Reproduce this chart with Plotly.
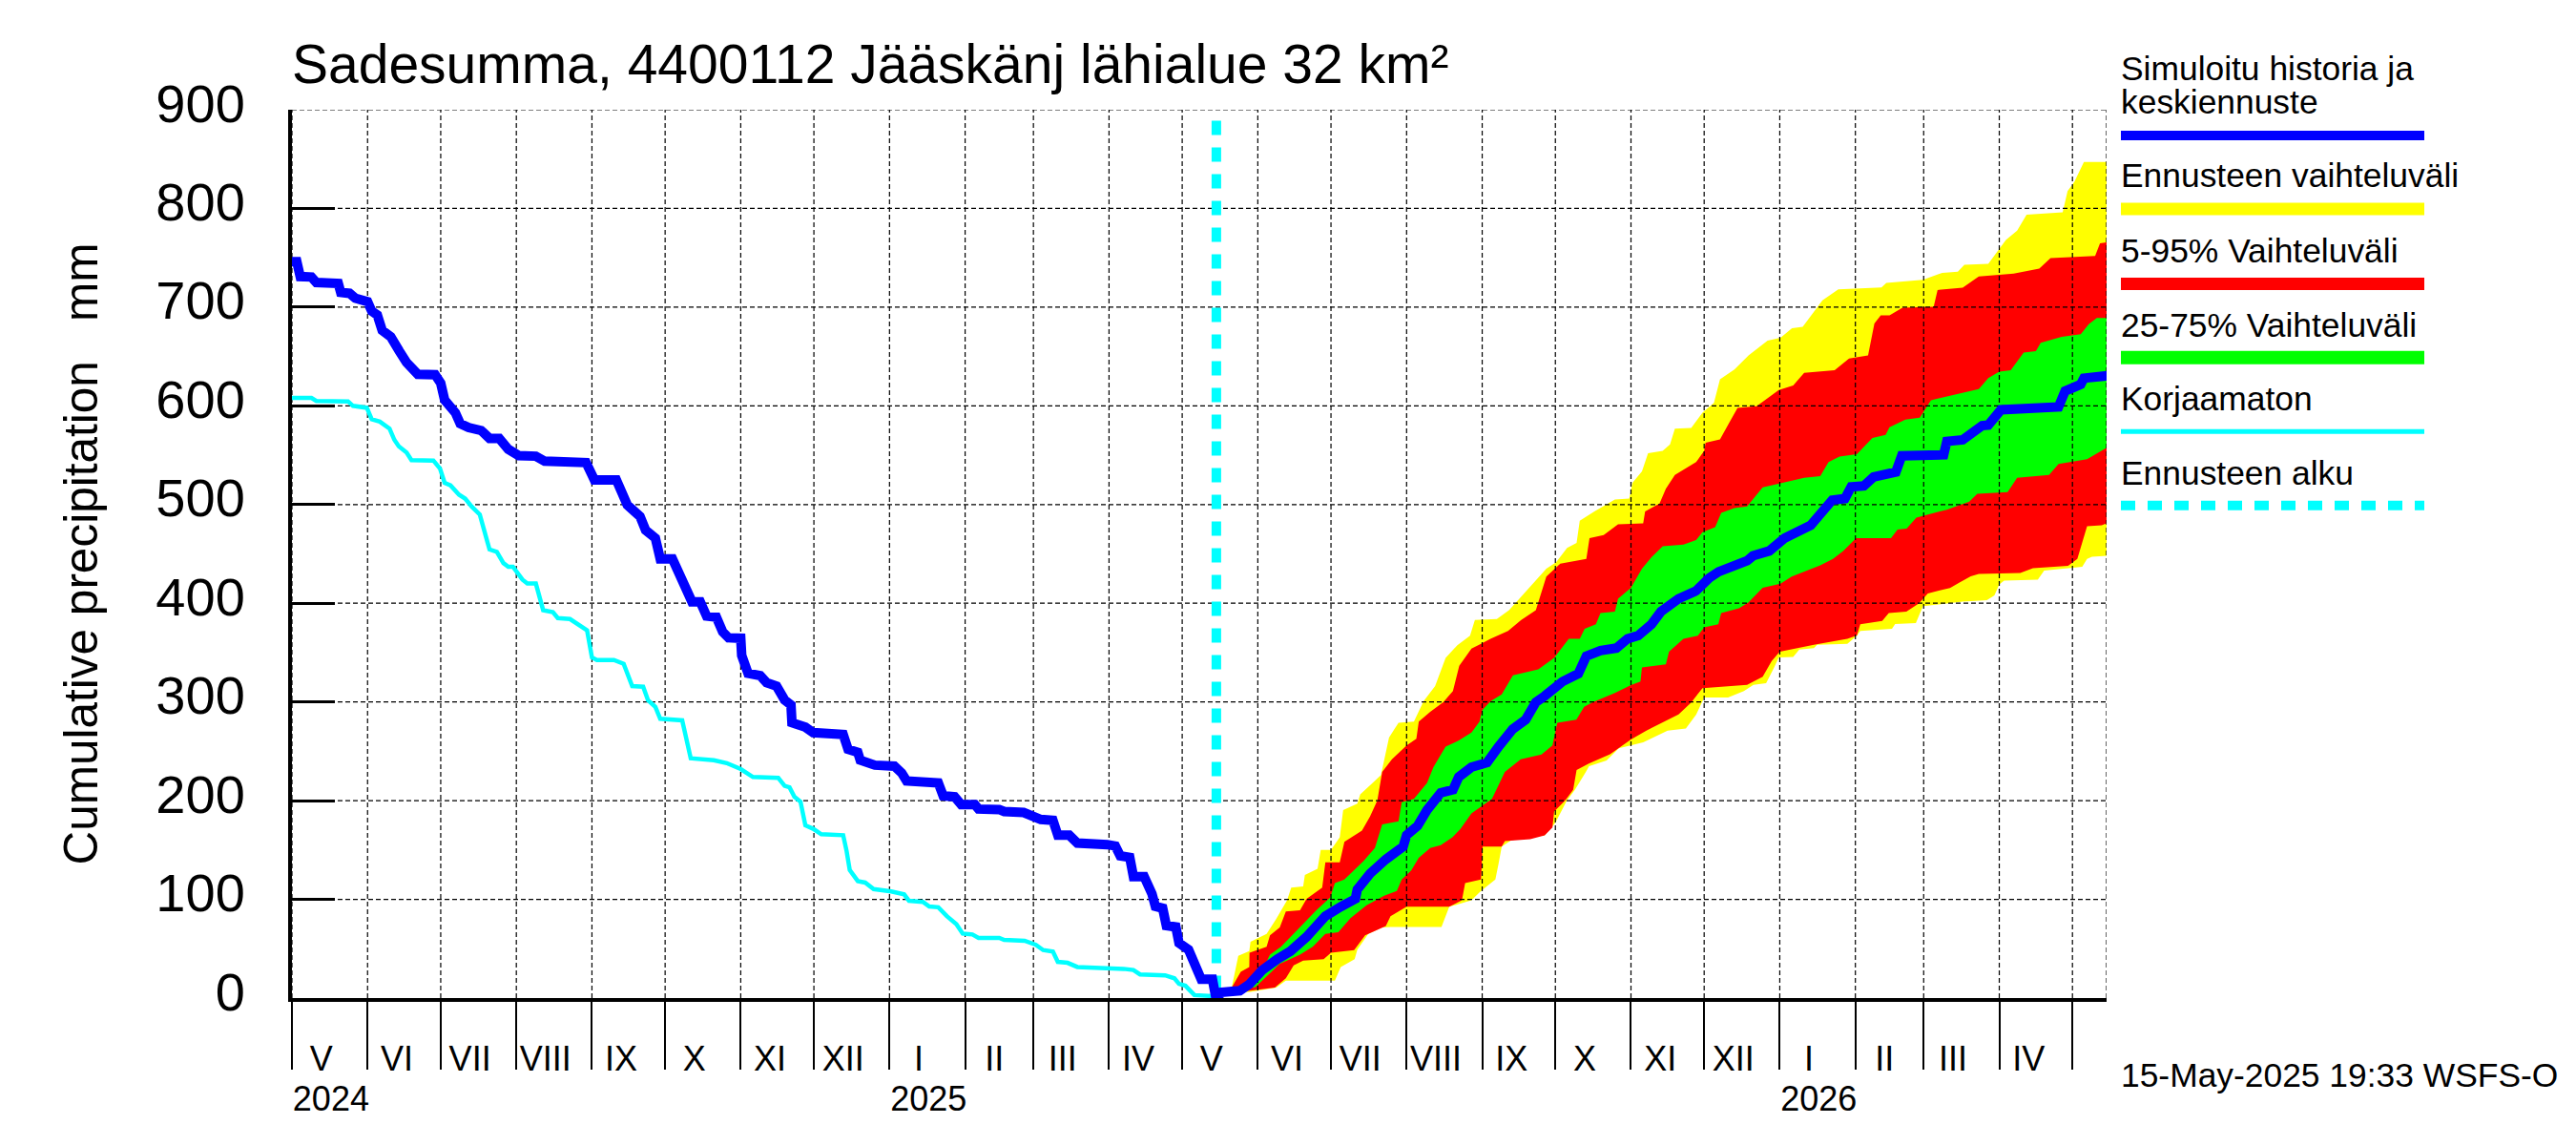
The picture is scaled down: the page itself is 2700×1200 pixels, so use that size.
import pandas as pd
import plotly.graph_objects as go

START = pd.Timestamp("2024-05-01")
END_DAY = 744
FORECAST_DAY = 379

# Simulated history and central forecast (days since 1 May 2024, mm)
blue_days = [0,2,3.4,8,10,19,20,23.6,26,31,32.7,35,37,40.5,44,47,51.6,58.7,61,62.6,67,69,72.4,77.6,81,85,88.7,93,100,103.6,120.6,122.5,124,133,135,137.5,142.7,145,149,151,156,160,162,164,167.4,170,174,176.6,179,184,184.4,187,192,194.6,198.7,202,204.6,205,210.5,213.7,226,228,232,233,239,247,250,252,265,267,271.7,274.4,280,281.5,290,292,300,307,312,314,318.7,322,334.3,337.6,339.6,343.5,345,349.4,352.6,354,357,358.5,362.4,363.7,367.6,369.5,372.8,377.4,379,
             381,388.6,392.5,397.7,404,409.4,416,423.7,430,436,436.8,442,448.5,455.6,457,461.5,465.4,471,476,478.4,483.6,490,494.7,500.5,505.8,510,513.6,520.9,527.4,530.7,536.5,543,547.6,552,557.4,561.3,568.5,575.7,581,585,596.6,599,605.7,612,622.7,627.5,631.5,636.7,639.3,644.5,648.5,657.6,660,677.2,678.5,685,693,695.5,700.7,724.3,727,733.4,734.7,745]
blue_vals = [746,746,731,730.5,725,724,715,714,709,705.5,696,692,676.5,670,655.6,644,632,631.5,623,606,593,582,578,575,567,567,556,549.5,549,544,542.5,535,525,525,512,499.5,488,474,466,445,445,424,417.5,401.5,401.5,387,386,371,365,364.5,347,329,326.6,319.6,316,302,297,279,274.5,269,267,252,249,241,236,235,228,220,218,205,204,196,196,191.5,191,189,188,181,180,165,165,157,155.5,154,144,142.5,123,123,105.6,93,91,73.4,72,55.7,49,36,19,19,-2,
             5.8,7.4,14,28,39.5,47.5,62,83,92.5,100.5,110,126,140.5,153.5,165,174.5,190.5,208,211,224,234,238.6,254.7,272.4,282,299.7,306,320.6,328.7,346.5,352,354.5,364,367.4,378.7,391.6,404.5,412.6,425.5,432,443,448,453,466,479,491.6,504.5,506,518,519,528,533,549.4,550.4,564,565.5,580,580.6,596,599,615,621.7,628,630.7]

# Uncorrected series
cyan_days = [0,8,10,23,25,30.7,32.7,36,40,42,43.8,47,49,58,60.7,62.6,65,68.5,71,73.7,77,78.9,81,84,86.7,88.7,90.6,94.5,96.5,100,103,107,109,114,118,121,123,125,132,136,139.5,144,146,149,151,160,163.5,173,178.3,184,189,199.4,202,204,206,208.5,210.5,213.7,217,226,227.4,228.7,232,235,238.5,245.7,251,253,258.7,261.3,265,268.5,272.4,275,279,281.5,290,292,300.4,305,308,312,314,318,322,328,341,345,347.7,358,361.8,363.7,366.3,370,377.4,379]
cyan_vals = [608,608,605,604.5,600,598,586.5,584,577,565.5,559,552.6,545,544.6,536.5,522,519.5,510,506,498,490,474,454.5,452,440.7,437,437,424,420,420,393,391,385,384,377.5,372.5,345,342.5,342.5,338.7,316,315.5,301.7,295,283,281.4,243,241,238,232,224,223,215,213.5,204,199,175,171.5,166,165,149,129.7,118.5,117,110.4,108,105,98.5,97.5,92.7,92,83,75,65.3,64.4,61,61,59,58,54,48.6,47,36.7,35.7,31.5,31,29.6,28.4,24,23,20,14.4,12.5,3,2,0]

# Forecast range (outer)
yellow_up_days = [379,385.3,388,392.5,393,399.6,403.5,408,409.7,414.6,415.3,420.5,421.8,426,429.6,431,436.8,438,443.3,446.5,449.8,453.7,460,464,468.7,473,477.8,483,485,494,499,514.3,518.3,522.8,526.7,528,534,542.4,548.3,549.6,553.5,556,562,565,567,573.7,578.3,583,585.5,591.4,597.2,605,610.3,615,619.4,623.6,627.5,634,651.7,653.7,668.7,676.6,683,685.7,695.5,698.8,702.7,707.3,711.2,726,728,730.8,734.7,744]
yellow_up_vals = [4,10.6,42.7,47.5,57,65,80,99,111.8,113,124.6,131,150,150,163,190.5,197,206.5,218.4,226,264,279,280,301,316,344.6,357.5,367,383,384,393,435,441.6,456,461,483.5,493,505,506,522,533.5,552,554.5,561,577,577.7,593,603,627,636.8,651,666,669,678.7,680,694,707,718,720,724.5,727.7,734.8,735.8,743,743.8,755,768,777.5,793.6,796,817.7,827,847,847]
yellow_lo_days = [379,393,403.5,407.5,427.6,430,435.7,436.8,441.3,447,450.4,471.3,474.5,483.6,487.5,493.4,494.7,496,500,513.6,518,522.7,526,530.5,531.8,539,544,554,564,571.5,575.7,579,588.8,595.3,599.2,604.4,607.7,609.6,615.5,618,624,625.3,637.7,641.6,643,656,657.3,665.8,668.7,685,694.9,698,700,702,715.8,718.4,734,736,738,744]
yellow_lo_vals = [4,6.4,10.6,17.6,17.6,31.5,39.5,49,65,71.6,72,72,92.5,99,108.5,120,136,153.5,160,164.8,177.6,200,211,229,235,240.6,253,259,271,273,287,304.5,304.5,311,317.4,319,335,345,345.5,353,354.5,358,359,367,372,374,379,380,397,401.7,403,408,419,423,424,433,437,445,447,448]

# 5-95 % range
red_up_days = [379,385.3,389,392.5,392.6,399.6,401,405,407.5,413.3,416,422.4,423.7,429.6,431.5,438.7,442,445,447,451,457,461,462,466.7,472,476,478.6,483.6,487.5,491.4,498.6,504,510,514.3,520,530.7,532,537.8,543.7,554,554.8,560.7,563.3,567,575.7,579,579.6,585.5,589.4,592.7,600.5,609.6,615.5,620,632.5,638.4,646.2,648.8,651.4,655,660.3,673.1,674.7,685,691.6,705.9,716.4,721,739.3,741.3,744]
red_up_vals = [4,10.6,26.6,31.5,46,52,63.6,71.6,87.7,89,100.5,111.8,137.5,137.5,158.3,169.6,184,200,229,242,256,262.7,280,290,299.7,311,336.6,354,359,364,372,383,393,427,440,445,466,469,480,481,493,501,516,530,543,554.5,562.6,566,583.5,598,599.7,616,620.6,633.5,636,648,651,683.5,691.6,691.7,699.5,700.4,717.4,719.7,731,734,739,749.6,751.8,764.7,765.6]
red_lo_days = [379,393,403,407.5,410.7,414.6,423,426,435.5,440,448.5,450.4,457,474.5,479.7,481,487.5,488.2,496,497.3,507.7,513.6,516.8,517.5,522,525.3,526.7,531.7,540.4,549,555.3,568.5,573.7,578.3,596.6,603,606.7,610,617.5,624,637.7,641.6,643,652,654.7,661.9,667,670.7,679.8,683.7,688.3,691.6,708.6,713.8,728.2,732,736,742,744]
red_lo_vals = [4,7.4,10.6,20,33,38,39.5,46,48.5,63.6,73,83,92.5,92.5,99,116.6,120,153.5,153.5,159,161,164.8,172.8,189,200,211,231,237.5,247,262,271,287.4,299.5,314,317.4,325.5,341.6,351,354.5,358,364,367.4,378.7,382,390,391.6,399.7,410,415.5,421,427.4,429.6,430.6,435.4,438,445,478,479,481]

# 25-75 % range
green_up_days = [379,393.8,397,401,405.5,410,414.6,420,425.7,427.6,431.5,439.4,444,447,453.7,455,460,465.4,468,473,478.4,483.6,486.9,488,491.5,496,500.6,511,517.5,523.5,528,530,534.6,536.5,542.4,543.7,549,553.5,557.4,562,570.5,575.7,578.3,583.5,586,591.4,596.6,603,620,626.6,630,634.5,641.6,648,653.4,655,661.5,667.4,672,691.6,695.5,700,704.7,710,715,717,725.6,733.4,736.7,740,744]
green_up_vals = [4,11,23.4,44,52,63.6,75,89,102,116.6,120,139,152,176,179,198.5,201.7,218,234,254.7,261,269,280,291.6,301,307.7,327,333,344.7,364,364,374,378.7,390,391.6,404.5,415.8,435,446.5,457.7,459.4,464,472,477,491.6,496.5,498,517.4,527,528.7,543,548.7,551,567.4,570.6,578.3,586,588,605.7,617,628,634.6,636,654,655.5,664,670,672.5,682.7,689,689]
green_lo_days = [379,395,401.6,404.9,413.3,418.5,423.7,429,434,440.6,447.8,453,455,458.9,462,466.7,471,475.8,479,483.6,487.5,492,497.3,503.8,512.3,516.8,518.8,526.6,529.8,533.3,542.4,549,552.9,553.5,563.3,564.6,570.5,576.4,579,584.8,586,593.3,597.2,603,610.3,614.9,626.6,631.8,636,641.3,655.6,658.3,662,666,678.5,687.7,691,703.4,707.3,720.4,724.3,736,744]
green_lo_vals = [4,11,26.6,34.6,44,52,65,66.8,81,94,103.7,108.5,120,129.4,142,152,155,163,171,187,193.7,201.7,229,242,246.7,256,279,282,295,299.7,309,317,320.6,335,338,351,364,367,375.5,378.7,390,395,401,415.8,419.7,427,438.4,445,453,466,466,474.6,475.6,486.8,494.8,503,511,512.5,527,530,541,546,557.5]

y_ticks = [0,100,200,300,400,500,600,700,800,900]
month_starts = ["2024-05-01","2024-06-01","2024-07-01","2024-08-01","2024-09-01","2024-10-01","2024-11-01","2024-12-01",
                "2025-01-01","2025-02-01","2025-03-01","2025-04-01","2025-05-01","2025-06-01","2025-07-01","2025-08-01",
                "2025-09-01","2025-10-01","2025-11-01","2025-12-01","2026-01-01","2026-02-01","2026-03-01","2026-04-01","2026-05-01"]
year_starts = ["2025-01-01","2026-01-01"]
month_labels = ["V","VI","VII","VIII","IX","X","XI","XII","I","II","III","IV","V","VI","VII","VIII","IX","X","XI","XII","I","II","III","IV"]
year_labels = ["2024","2025","2026"]
year_label_days = [16,261,626]

title_text = "Sadesumma, 4400112 Jääskänj lähialue 32 km²"
ytitle_text = "Cumulative precipitation\u00a0\u00a0\u00a0mm\u00a0\u00a0"
stamp_text = "15-May-2025 19:33 WSFS-O"

WIDTH, HEIGHT = 2700, 1200
L, R, T, B = 306, 2208, 115, 1046.5
BLACK, BLUE, CYAN, YELLOW, RED, GREEN = "#000000", "#0000FF", "#00FFFF", "#FFFF00", "#FF0000", "#00FF00"
FONT = "Liberation Sans"

def dates(days):
    return [START + pd.to_timedelta(d, unit="D") for d in days]

x_end = dates([END_DAY])[0]
fig = go.Figure()

for name, up_d, up_v, lo_d, lo_v, col in [
    ("Ennusteen vaihteluväli", yellow_up_days, yellow_up_vals, yellow_lo_days, yellow_lo_vals, YELLOW),
    ("5-95% Vaihteluväli", red_up_days, red_up_vals, red_lo_days, red_lo_vals, RED),
    ("25-75% Vaihteluväli", green_up_days, green_up_vals, green_lo_days, green_lo_vals, GREEN),
]:
    fig.add_trace(go.Scatter(x=dates(up_d) + dates(lo_d)[::-1], y=up_v + lo_v[::-1], mode="lines", fill="toself",
                             fillcolor=col, line=dict(width=0, color=col), name=name, showlegend=False, hoverinfo="skip"))

# Grid above the filled ranges, below the lines
gx, gy = [], []
for m in month_starts + [x_end]:
    gx += [m, m, None]
    gy += [0, 900, None]
for t in y_ticks[1:]:
    gx += [START, x_end, None]
    gy += [t, t, None]
fig.add_trace(go.Scatter(x=gx, y=gy, mode="lines", line=dict(color=BLACK, width=1.2, dash="5px,3px"),
                         showlegend=False, hoverinfo="skip"))

fig.add_trace(go.Scatter(x=dates([FORECAST_DAY, FORECAST_DAY]), y=[889, 0], mode="lines",
                         line=dict(color=CYAN, width=10, dash="15px,13px"), name="Ennusteen alku", showlegend=False))
fig.add_trace(go.Scatter(x=dates(cyan_days), y=cyan_vals, mode="lines", line=dict(color=CYAN, width=4.5),
                         name="Korjaamaton", showlegend=False))
fig.add_trace(go.Scatter(x=dates(blue_days), y=blue_vals, mode="lines", line=dict(color=BLUE, width=10),
                         name="Simuloitu historia ja keskiennuste", showlegend=False, cliponaxis=False))

# Carrier traces for the label axes
label_dates = [pd.Timestamp(m) + pd.Timedelta(days=12) for m in month_starts[:-1]]
year_dates = dates(year_label_days)
fig.add_trace(go.Scatter(x=label_dates, y=[0] * len(label_dates), xaxis="x2", mode="none", showlegend=False, hoverinfo="skip"))
fig.add_trace(go.Scatter(x=year_dates, y=[0] * len(year_dates), xaxis="x3", mode="none", showlegend=False, hoverinfo="skip"))

x_range = [START, x_end]
fig.update_layout(
    width=WIDTH, height=HEIGHT, autosize=False,
    margin=dict(l=L, r=WIDTH - R, t=T, b=HEIGHT - B, pad=0),
    paper_bgcolor="white", plot_bgcolor="white", showlegend=False,
    font=dict(family=FONT, color=BLACK),
    title=dict(text=title_text, x=306 / WIDTH, xanchor="left", xref="container", y=1 - 67 / HEIGHT, yanchor="middle",
               yref="container", font=dict(size=57, family=FONT, color=BLACK)),
    xaxis=dict(range=x_range, type="date", showgrid=False, zeroline=False, showline=True, linecolor=BLACK, linewidth=4,
               layer="below traces", tickmode="array", tickvals=year_starts, ticktext=["", ""], ticks="outside",
               ticklen=71, tickwidth=4, tickcolor=BLACK, showticklabels=False,
               minor=dict(tickmode="array", tickvals=month_starts, ticks="outside", ticklen=71, tickwidth=1.5,
                          tickcolor=BLACK, showgrid=False)),
    xaxis2=dict(range=x_range, type="date", overlaying="x", anchor="y", side="bottom", showgrid=False, zeroline=False,
                showline=False, tickmode="array", tickvals=label_dates, ticktext=month_labels, ticks="outside",
                ticklen=32, tickwidth=1, tickcolor="rgba(0,0,0,0)", tickangle=0, tickfont=dict(size=36, family=FONT, color=BLACK)),
    xaxis3=dict(range=x_range, type="date", overlaying="x", anchor="y", side="bottom", showgrid=False, zeroline=False,
                showline=False, tickmode="array", tickvals=year_dates, ticktext=year_labels, ticks="outside",
                ticklen=74, tickwidth=1, tickcolor="rgba(0,0,0,0)", tickangle=0, tickfont=dict(size=36, family=FONT, color=BLACK)),
    yaxis=dict(range=[0, 900], showgrid=False, zeroline=False, showline=True, linecolor=BLACK, linewidth=4,
               layer="below traces", tickmode="array", tickvals=y_ticks, ticktext=[str(t) for t in y_ticks],
               ticks="inside", ticklen=45, tickwidth=3, tickcolor=BLACK, ticklabelstandoff=34, ticklabelshift=-7,
               tickfont=dict(size=56, family=FONT, color=BLACK),
               title=dict(text=ytitle_text, standoff=46, font=dict(size=49.5, family=FONT, color=BLACK))),
)

# Legend block
legend_left, legend_right = 2223, 2541
legend_rows = [
    (["Simuloitu historia ja", "keskiennuste"], [72, 107], 142, 10, BLUE, None),
    (["Ennusteen vaihteluväli"], [184], 219, 13, YELLOW, None),
    (["5-95% Vaihteluväli"], [263], 297.5, 13, RED, None),
    (["25-75% Vaihteluväli"], [341], 375, 14, GREEN, None),
    (["Korjaamaton"], [418], 452.5, 5, CYAN, None),
    (["Ennusteen alku"], [496], 530, 10, CYAN, "15px,13px"),
]
for texts, ys, line_y, lw, col, dash in legend_rows:
    for t, y in zip(texts, ys):
        fig.add_annotation(text=t, xref="paper", yref="paper", x=(legend_left - L) / (R - L),
                           y=(B - y) / (B - T), xanchor="left", yanchor="middle", showarrow=False,
                           xshift=-2, font=dict(size=35.4, family=FONT, color=BLACK))
    fig.add_shape(type="line", xref="paper", yref="paper", x0=(legend_left - L) / (R - L), x1=(legend_right - L) / (R - L),
                  y0=(B - line_y) / (B - T), y1=(B - line_y) / (B - T), line=dict(color=col, width=lw, dash=dash or "solid"))

fig.add_annotation(text=stamp_text, xref="paper", yref="paper", x=(2223 - L) / (R - L), y=(B - 1128) / (B - T),
                   xanchor="left", yanchor="middle", showarrow=False, xshift=-2, font=dict(size=35.4, family=FONT, color=BLACK))

fig.write_html("out.html", post_script="document.body.style.margin='0';", config=dict(displayModeBar=False))
